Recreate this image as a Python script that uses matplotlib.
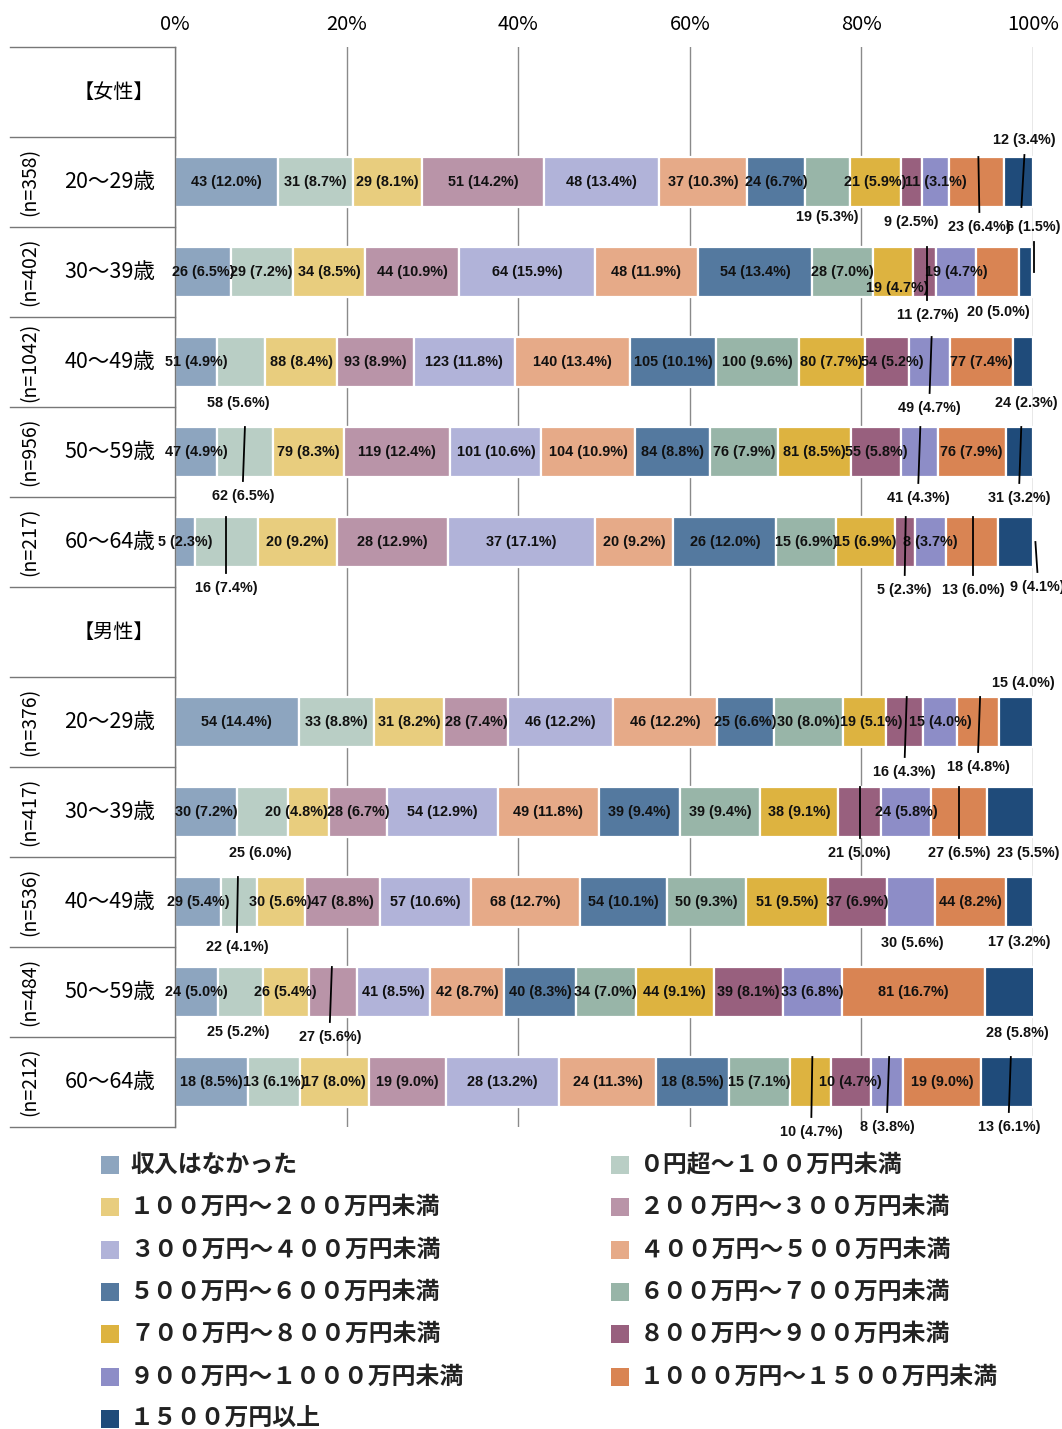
import matplotlib
matplotlib.use("Agg")
import matplotlib.pyplot as plt
from matplotlib.patches import Rectangle
import numpy as np

plt.rcParams['font.family'] = ['Noto Sans CJK JP', 'DejaVu Sans']

# 凡例のカテゴリ（年収区分）
categories = [
    '収入はなかった', '０円超～１００万円未満',
    '１００万円～２００万円未満', '２００万円～３００万円未満',
    '３００万円～４００万円未満', '４００万円～５００万円未満',
    '５００万円～６００万円未満', '６００万円～７００万円未満',
    '７００万円～８００万円未満', '８００万円～９００万円未満',
    '９００万円～１０００万円未満', '１０００万円～１５００万円未満',
    '１５００万円以上',
]
colors = ['#8DA5BF', '#B9CEC5', '#E8CD7E', '#B994A8', '#B1B3D9', '#E6AA88',
          '#54799F', '#98B5A8', '#DDB340', '#98607E', '#8D8DC7', '#D98453',
          '#1F4B7A']

age_labels = ['20～29歳', '30～39歳', '40～49歳', '50～59歳', '60～64歳']
female_n = [358, 402, 1042, 956, 217]
male_n = [376, 417, 536, 484, 212]

# 女性
f20 = [43, 31, 29, 51, 48, 37, 24, 19, 21, 9, 11, 23, 12]
f20_pct = [12.0, 8.7, 8.1, 14.2, 13.4, 10.3, 6.7, 5.3, 5.9, 2.5, 3.1, 6.4, 3.4]
f30 = [26, 29, 34, 44, 64, 48, 54, 28, 19, 11, 19, 20, 6]
f30_pct = [6.5, 7.2, 8.5, 10.9, 15.9, 11.9, 13.4, 7.0, 4.7, 2.7, 4.7, 5.0, 1.5]
f40 = [51, 58, 88, 93, 123, 140, 105, 100, 80, 54, 49, 77, 24]
f40_pct = [4.9, 5.6, 8.4, 8.9, 11.8, 13.4, 10.1, 9.6, 7.7, 5.2, 4.7, 7.4, 2.3]
f50 = [47, 62, 79, 119, 101, 104, 84, 76, 81, 55, 41, 76, 31]
f50_pct = [4.9, 6.5, 8.3, 12.4, 10.6, 10.9, 8.8, 7.9, 8.5, 5.8, 4.3, 7.9, 3.2]
f60 = [5, 16, 20, 28, 37, 20, 26, 15, 15, 5, 8, 13, 9]
f60_pct = [2.3, 7.4, 9.2, 12.9, 17.1, 9.2, 12.0, 6.9, 6.9, 2.3, 3.7, 6.0, 4.1]

# 男性
m20 = [54, 33, 31, 28, 46, 46, 25, 30, 19, 16, 15, 18, 15]
m20_pct = [14.4, 8.8, 8.2, 7.4, 12.2, 12.2, 6.6, 8.0, 5.1, 4.3, 4.0, 4.8, 4.0]
m30 = [30, 25, 20, 28, 54, 49, 39, 39, 38, 21, 24, 27, 23]
m30_pct = [7.2, 6.0, 4.8, 6.7, 12.9, 11.8, 9.4, 9.4, 9.1, 5.0, 5.8, 6.5, 5.5]
m40 = [29, 22, 30, 47, 57, 68, 54, 50, 51, 37, 30, 44, 17]
m40_pct = [5.4, 4.1, 5.6, 8.8, 10.6, 12.7, 10.1, 9.3, 9.5, 6.9, 5.6, 8.2, 3.2]
m50 = [24, 25, 26, 27, 41, 42, 40, 34, 44, 39, 33, 81, 28]
m50_pct = [5.0, 5.2, 5.4, 5.6, 8.5, 8.7, 8.3, 7.0, 9.1, 8.1, 6.8, 16.7, 5.8]
m60 = [18, 13, 17, 19, 28, 24, 18, 15, 10, 10, 8, 19, 13]
m60_pct = [8.5, 6.1, 8.0, 9.0, 13.2, 11.3, 8.5, 7.1, 4.7, 4.7, 3.8, 9.0, 6.1]

# ラベルの移動 (dx[px], dy[px], 引き出し線の先端dy[px] or None, 先端dx[px])
moves = {
    'f20': {7: (0, 35, None, 0), 9: (0, 40, None, 0), 11: (3, 45, -25, 2), 12: (6, -42, 25, 3)},
    'f30': {8: (5, 16, None, 0), 9: (3, 43, -25, 3), 11: (1, 40, None, 0), 12: (8, -45, 0, 8)},
    'f40': {1: (-3, 41, None, 0), 9: (5, 0, None, 0), 10: (0, 46, -25, 2), 12: (3, 41, None, 0)},
    'f50': {1: (-2, 44, -25, 0), 10: (-1, 46, -25, 1), 12: (0, 46, -25, 2)},
    'f60': {1: (0, 46, -25, 0), 9: (0, 48, -25, 1), 11: (1, 48, -25, 1), 12: (22, 45, 0, 20)},
    'm20': {8: (7, 0, None, 0), 9: (0, 50, -25, 2), 11: (0, 45, -25, 2), 12: (8, -39, None, 0)},
    'm30': {1: (-2, 41, None, 0), 2: (-12, 0, None, 0), 9: (0, 41, -25, 0), 11: (0, 41, -25, 0),
            12: (18, 41, None, 0)},
    'm40': {1: (-2, 45, -25, -1), 10: (1, 41, None, 0), 12: (0, 40, None, 0)},
    'm50': {1: (-2, 40, None, 0), 3: (-3, 45, -25, -1), 12: (8, 41, None, 0)},
    'm60': {8: (1, 50, -25, 2), 10: (0, 45, -25, 2), 12: (2, 45, -25, 4)},
}

rows = [
    (1, 'f20', female_n[0], f20, f20_pct), (2, 'f30', female_n[1], f30, f30_pct),
    (3, 'f40', female_n[2], f40, f40_pct), (4, 'f50', female_n[3], f50, f50_pct),
    (5, 'f60', female_n[4], f60, f60_pct),
    (7, 'm20', male_n[0], m20, m20_pct), (8, 'm30', male_n[1], m30, m30_pct),
    (9, 'm40', male_n[2], m40, m40_pct), (10, 'm50', male_n[3], m50, m50_pct),
    (11, 'm60', male_n[4], m60, m60_pct),
]

W, H = 1062, 1429
fig = plt.figure(figsize=(W / 100, H / 100), dpi=100)
ax = fig.add_axes([175 / W, 1 - 1127 / H, 858 / W, 1080 / H])

PX_X = 858 / 100.0   # 1% あたりのピクセル
PX_Y = 90.0          # 1行あたりのピクセル
lab_font = dict(family=['Liberation Sans', 'DejaVu Sans'], fontweight='bold',
                fontsize=10.4, color='#111111')

for y, key, ntot, counts, pct in rows:
    pct = np.array(pct)
    lefts = np.concatenate([[0], np.cumsum(pct)[:-1]])
    ax.barh(y, pct, left=lefts, height=0.555, color=colors,
            edgecolor='white', linewidth=1.6, zorder=2)
    for i in range(len(pct)):
        cx = lefts[i] + pct[i] / 2
        dx, dy, tip_dy, tip_dx = moves.get(key, {}).get(i, (0, 0, None, 0))
        tx = cx + dx / PX_X
        ty = y + dy / PX_Y
        ax.text(tx, ty, f'{counts[i]} ({pct[i]:.1f}%)', ha='center', va='center',
                zorder=4, clip_on=False, **lab_font)
        if tip_dy is not None:
            end = ty - np.sign(dy) * 15 / PX_Y
            ax.plot([cx + tip_dx / PX_X, tx], [y + tip_dy / PX_Y, end],
                    color='black', lw=1.3, zorder=5, clip_on=False)

ax.set_xlim(0, 100)
ax.set_ylim(11.5, -0.5)
ax.xaxis.tick_top()
ax.set_xticks([0, 20, 40, 60, 80, 100])
ax.set_xticklabels([f'{v}%' for v in [0, 20, 40, 60, 80, 100]], fontsize=14.5)
ax.tick_params(axis='x', length=0, pad=9)
ax.set_yticks([])
ax.grid(axis='x', color='#8a8a8a', lw=1.0)
ax.set_axisbelow(True)
for s in ['top', 'right', 'bottom']:
    ax.spines[s].set_visible(False)
ax.spines['left'].set_color('#777777')
ax.spines['left'].set_linewidth(1.0)

# 左側の表
tr = ax.get_yaxis_transform()
for b in np.arange(-0.5, 12, 1.0):
    ax.plot([-165 / 858, 0], [b, b], transform=tr, color='#777777', lw=1.0, clip_on=False)
ax.text(-61 / 858, 0, '【女性】', transform=tr, ha='center', va='center', fontsize=14.5)
ax.text(-61 / 858, 6, '【男性】', transform=tr, ha='center', va='center', fontsize=14.5)
for k in range(5):
    for y, n in [(k + 1, female_n[k]), (k + 7, male_n[k])]:
        ax.text(-65 / 858, y, age_labels[k], transform=tr, ha='center', va='center', fontsize=15.5)
        ax.text(-145 / 858, y, f'(n={n})', transform=tr, ha='center', va='center',
                rotation=90, fontsize=14)

# 凡例（2列、行方向の順）
for i, name in enumerate(categories):
    col, row = i % 2, i // 2
    x0 = 101 + col * 510
    yc = 1165 + row * 42.3
    fig.add_artist(Rectangle((x0 / W, 1 - (yc + 9) / H), 18 / W, 18 / H,
                             transform=fig.transFigure, facecolor=colors[i], edgecolor='none'))
    fig.text((x0 + 29) / W, 1 - yc / H, name, ha='left', va='center',
             fontsize=17.2, fontweight='bold', color='#222222')

fig.savefig('out.png', dpi=100)
